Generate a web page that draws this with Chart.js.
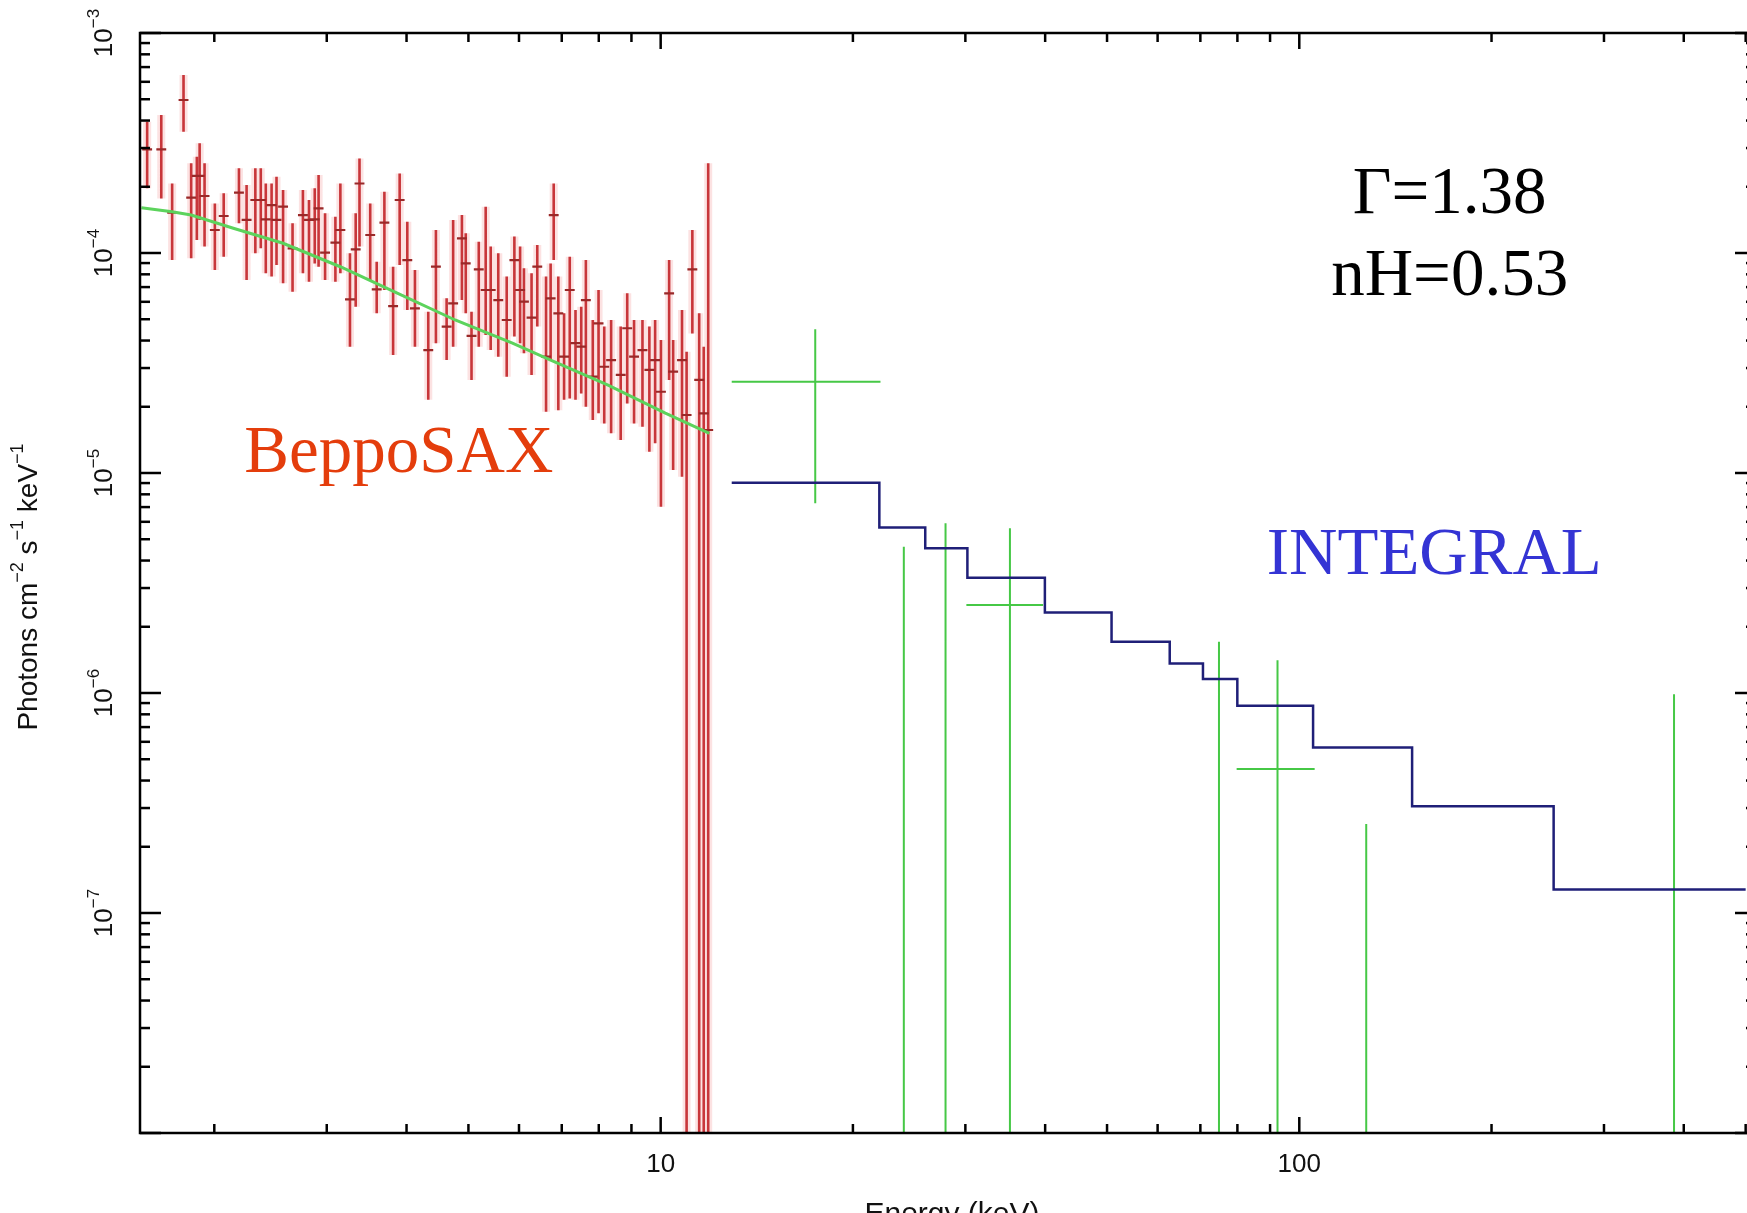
<!DOCTYPE html>
<html>
<head>
<meta charset="utf-8">
<title>BeppoSAX + INTEGRAL spectrum</title>
<script src="https://cdn.jsdelivr.net/npm/chart.js@4.4.0/dist/chart.umd.min.js"></script>
<style>
  html, body { margin: 0; padding: 0; background: #fff; overflow: hidden; }
  #wrap { width: 1747px; height: 1213px; overflow: hidden; }
</style>
</head>
<body>
<div id="wrap"><canvas id="chart" width="1760" height="1240"></canvas></div>
<script>
// x: energy (keV), y: photons cm^-2 s^-1 keV^-1, both

// BeppoSAX data points
var saxEnergy = [
  1.570, 1.652, 1.718, 1.790, 1.840, 1.878, 1.897, 1.931, 2.004, 2.069,
  2.186, 2.247, 2.319, 2.365, 2.408, 2.459, 2.503, 2.563, 2.652, 2.753,
  2.814, 2.873, 2.913, 2.982, 3.095, 3.151, 3.262, 3.330, 3.376, 3.509,
  3.592, 3.693, 3.811, 3.902, 4.011, 4.123, 4.326, 4.447, 4.622, 4.732,
  4.884, 4.952, 5.056, 5.190, 5.321, 5.418, 5.568, 5.740, 5.901, 6.024,
  6.108, 6.278, 6.409, 6.615, 6.725, 6.800, 6.914, 7.059, 7.205, 7.356,
  7.510, 7.636, 7.829, 7.993, 8.159, 8.364, 8.658, 8.864, 9.085, 9.365,
  9.601, 9.802, 10.01, 10.31, 10.46, 10.80, 10.98, 11.21, 11.49, 11.68,
  11.87
];
var saxFlux = [
  2.96e-4, 2.96e-4, 1.525e-4, 4.96e-4, 1.784e-4, 2.24e-4, 2.24e-4, 1.816e-4, 1.272e-4, 1.473e-4,
  1.88e-4, 1.413e-4, 1.741e-4, 1.741e-4, 1.422e-4, 1.652e-4, 1.413e-4, 1.624e-4, 1.05e-4, 1.488e-4,
  1.413e-4, 1.422e-4, 1.596e-4, 1.004e-4, 1.114e-4, 1.272e-4, 6.16e-5, 1.039e-4, 2.07e-4, 1.207e-4,
  6.84e-5, 1.374e-4, 5.74e-5, 1.741e-4, 9.29e-5, 5.6e-5, 3.62e-5, 8.67e-5, 4.63e-5, 5.9e-5,
  1.166e-4, 8.97e-5, 4.2e-5, 8.43e-5, 6.79e-5, 6.79e-5, 6.11e-5, 4.96e-5, 9.29e-5, 6.79e-5,
  6.01e-5, 5.08e-5, 8.67e-5, 3.38e-5, 6.22e-5, 1.488e-4, 5.32e-5, 3.38e-5, 6.79e-5, 3.89e-5,
  3.75e-5, 6.11e-5, 2.74e-5, 4.79e-5, 3.04e-5, 3.26e-5, 2.79e-5, 4.55e-5, 3.38e-5, 3.62e-5,
  2.94e-5, 3.26e-5, 2.34e-5, 6.56e-5, 2.89e-5, 3.26e-5, 1.835e-5, 8.43e-5, 2.65e-5, 1.867e-5,
  1.568e-5
];
var saxUpper = [
  3.95e-4, 4.24e-4, 2.07e-4, 6.44e-4, 2.56e-4, 2.74e-4, 3.15e-4, 2.56e-4, 1.681e-4, 1.867e-4,
  2.43e-4, 2.04e-4, 2.43e-4, 2.43e-4, 2.07e-4, 2.07e-4, 2.22e-4, 1.934e-4, 1.364e-4, 1.934e-4,
  1.741e-4, 1.967e-4, 2.26e-4, 1.515e-4, 1.463e-4, 2.07e-4, 9.97e-5, 1.515e-4, 2.69e-4, 1.681e-4,
  9.13e-5, 1.9e-4, 8.67e-5, 2.3e-4, 1.388e-4, 8.37e-5, 5.41e-5, 1.272e-4, 6.22e-5, 1.413e-4,
  1.488e-4, 1.229e-4, 5.41e-5, 1.126e-4, 1.624e-4, 1.069e-4, 9.97e-5, 7.81e-5, 1.187e-4, 1.069e-4,
  8.52e-5, 8.08e-5, 1.088e-4, 7.81e-5, 8.97e-5, 2.07e-4, 7.81e-5, 5.32e-5, 9.62e-5, 5.51e-5,
  5.7e-5, 9.29e-5, 4.96e-5, 6.79e-5, 4.63e-5, 4.96e-5, 4.63e-5, 6.56e-5, 4.96e-5, 4.96e-5,
  4.63e-5, 4.96e-5, 4.02e-5, 9.29e-5, 4.02e-5, 5.51e-5, 3.56e-5, 1.272e-4, 5.32e-5, 3.75e-5,
  2.56e-4
];
// 1e-10 = the bar runs off the bottom of the plot
var saxLower = [
  1.97e-4, 1.77e-4, 9.29e-5, 3.56e-4, 9.46e-5, 1.146e-4, 1.413e-4, 1.069e-4, 8.37e-5, 9.62e-5,
  1.364e-4, 7.54e-5, 9.97e-5, 1.05e-4, 8.08e-5, 7.81e-5, 8.82e-5, 7.28e-5, 6.67e-5, 8.08e-5,
  7.41e-5, 8.97e-5, 8.67e-5, 7.54e-5, 7.41e-5, 8.08e-5, 3.75e-5, 5.7e-5, 1.069e-4, 7.54e-5,
  5.32e-5, 6.79e-5, 3.44e-5, 8.82e-5, 5.51e-5, 3.75e-5, 2.15e-5, 3.89e-5, 3.26e-5, 3.75e-5,
  6.11e-5, 5.32e-5, 2.65e-5, 3.75e-5, 4.24e-5, 3.62e-5, 3.38e-5, 2.74e-5, 4.17e-5, 3.89e-5,
  3.5e-5, 2.79e-5, 4.63e-5, 1.9e-5, 3.26e-5, 9.29e-5, 1.93e-5, 2.15e-5, 2.18e-5, 2.15e-5,
  2.3e-5, 2.0e-5, 1.741e-5, 1.867e-5, 1.681e-5, 1.515e-5, 1.413e-5, 2.07e-5, 1.681e-5, 1.624e-5,
  1.25e-5, 1.364e-5, 7.03e-6, 2.65e-5, 1.032e-5, 9.62e-6, 1e-10, 4.31e-5, 1e-10, 1e-10,
  1e-10
];

// BeppoSAX absorbed power law model
var saxModelEnergy = [1.538, 1.717, 1.840, 2.142, 2.563, 3.150, 3.876, 4.766, 5.860, 6.725, 8.273, 10.17, 11.92];
var saxModelFlux = [1.607e-4, 1.54e-4, 1.488e-4, 1.295e-4, 1.107e-4, 8.66e-5, 6.56e-5, 4.96e-5, 3.89e-5, 3.26e-5, 2.51e-5, 1.87e-5, 1.515e-5];

// INTEGRAL points, null flux = point is below the plot (only the bar shows)
var intEnergy = [17.46, 24.03, 27.93, 35.23, 74.86, 92.45, 127.3, 386.2];
var intBinLow = [12.92, 22.0, 25.96, 30.11, 70.66, 79.78, 105.1, 250.2];
var intBinHigh = [22.09, 25.96, 30.22, 39.7, 79.98, 105.7, 150.2, 500];
var intFlux = [2.6e-5, null, null, 2.51e-6, null, 4.51e-7, null, null];
var intUpper = [4.5e-5, 4.62e-6, 5.91e-6, 5.61e-6, 1.71e-6, 1.41e-6, 2.54e-7, 9.86e-7];
var intLower = [7.28e-6, 1e-10, 1e-10, 1e-10, 1e-10, 1e-10, 1e-10, 1e-10];

// INTEGRAL model, one level per bin
var intModelEdges = [12.92, 22.0, 25.96, 30.22, 39.96, 50.82, 62.68, 70.66, 79.98, 105.1, 150.2, 250.2, 500];
var intModelFlux = [9.04e-6, 5.66e-6, 4.55e-6, 3.34e-6, 2.32e-6, 1.71e-6, 1.36e-6, 1.158e-6, 8.76e-7, 5.66e-7, 3.06e-7, 1.28e-7];

// axis labels
var xLabelTicks = [10, 100];
var yLabelTicks = [1e-3, 1e-4, 1e-5, 1e-6, 1e-7];

// text written on the plot (placed in data units)
var notes = [
  { text: 'Γ=1.38', e: 172, f: 1.52e-4, color: '#000000' },
  { text: 'nH=0.53', e: 172, f: 6.44e-5, color: '#000000' },
  { text: 'BeppoSAX', e: 3.89, f: 1.01e-5, color: '#e43d0c' },
  { text: 'INTEGRAL', e: 162.7, f: 3.48e-6, color: '#3434d4' }
];

var SANS = '"Liberation Sans", Arial, Helvetica, sans-serif';
var SERIF = '"Liberation Serif", "Times New Roman", serif';


function verticalBars(energy, lo, hi) {
    var pts = [];
    for (var i = 0; i < energy.length; i++) {
        pts.push({ x: energy[i], y: lo[i] });
        pts.push({ x: energy[i], y: hi[i] });
        pts.push({ x: energy[i], y: null });
    }
    return pts;
}

function horizontalBars(lo, hi, flux) {
    var pts = [];
    for (var i = 0; i < flux.length; i++) {
        if (flux[i] === null) continue;
        pts.push({ x: lo[i], y: flux[i] });
        pts.push({ x: hi[i], y: flux[i] });
        pts.push({ x: hi[i], y: null });
    }
    return pts;
}

function lineData(xs, ys) {
    var pts = [];
    for (var i = 0; i < xs.length; i++) pts.push({ x: xs[i], y: ys[i] });
    return pts;
}

// small horizontal caps for the BeppoSAX bins (about +-5 px)
var capW = 1.018;
var saxCapLo = saxEnergy.map(function (e) { return e / capW; });
var saxCapHi = saxEnergy.map(function (e) { return e * capW; });

var stepPts = lineData(intModelEdges.slice(0, intModelFlux.length), intModelFlux);
stepPts.push({ x: intModelEdges[intModelEdges.length - 1], y: intModelFlux[intModelFlux.length - 1] });


function seg(ctx, x1, y1, x2, y2) {
    ctx.beginPath();
    ctx.moveTo(x1, y1);
    ctx.lineTo(x2, y2);
    ctx.stroke();
}

// draws text with raised parts, centred on 0 along the text direction
function drawRich(ctx, parts, size) {
    var supSize = Math.round(size * 0.66);
    var total = 0;
    parts.forEach(function (p) {
        ctx.font = (p.sup ? supSize : size) + 'px ' + SANS;
        p.w = ctx.measureText(p.t).width;
        total += p.w;
    });
    var x = -total / 2;
    parts.forEach(function (p) {
        ctx.font = (p.sup ? supSize : size) + 'px ' + SANS;
        ctx.fillText(p.t, x, p.sup ? -size * 0.4 : 0);
        x += p.w;
    });
}

var framePlugin = {
    id: 'xspecFrame',
    afterDatasetsDraw: function (chart) {
        var ctx = chart.ctx;
        var a = chart.chartArea;
        var xs = chart.scales.x, ys = chart.scales.y;
        ctx.save();
        ctx.strokeStyle = '#000';
        ctx.fillStyle = '#111';
        ctx.lineWidth = 2.5;
        ctx.strokeRect(a.left, a.top, a.right - a.left, a.bottom - a.top);

        // energy ticks, inward on bottom and top
        for (var d = 1; d <= 1000; d *= 10) {
            for (var m = 1; m <= 9; m++) {
                var v = m * d;
                if (v < xs.min || v > xs.max) continue;
                var px = xs.getPixelForValue(v);
                var len = m === 1 ? 16 : 9;
                seg(ctx, px, a.bottom, px, a.bottom - len);
                seg(ctx, px, a.top, px, a.top + len);
            }
        }
        // flux ticks, inward on left and right
        for (var k = -8; k < -3; k++) {
            var dec = Math.pow(10, k);
            for (var n = 1; n <= 9; n++) {
                var fv = n * dec;
                var py = ys.getPixelForValue(fv);
                var l2 = n === 1 ? 21 : 10;
                seg(ctx, a.left, py, a.left + l2, py);
                seg(ctx, a.right, py, a.right - l2, py);
            }
        }
        seg(ctx, a.left, a.top, a.left + 21, a.top);
        seg(ctx, a.right, a.top, a.right - 21, a.top);

        // x labels
        ctx.font = '26px ' + SANS;
        ctx.textAlign = 'center';
        ctx.textBaseline = 'middle';
        xLabelTicks.forEach(function (v) {
            ctx.fillText(String(v), xs.getPixelForValue(v), 1165);
        });

        // y labels, turned to read upwards
        ctx.textAlign = 'left';
        yLabelTicks.forEach(function (v) {
            var exp = Math.round(Math.log10(v));
            ctx.save();
            ctx.translate(105, ys.getPixelForValue(v));
            ctx.rotate(-Math.PI / 2);
            drawRich(ctx, [{ t: '10' }, { t: '\u2212' + Math.abs(exp), sup: true }], 26);
            ctx.restore();
        });

        // y title
        ctx.save();
        ctx.translate(29, (a.top + a.bottom) / 2 + 4);
        ctx.rotate(-Math.PI / 2);
        drawRich(ctx, [
            { t: 'Photons cm' }, { t: '\u22122', sup: true },
            { t: ' s' }, { t: '\u22121', sup: true },
            { t: ' keV' }, { t: '\u22121', sup: true }
        ], 28);
        ctx.restore();

        // x title (cut by the page edge like the original)
        ctx.font = '30px ' + SANS;
        ctx.textAlign = 'center';
        ctx.textBaseline = 'alphabetic';
        ctx.fillText('Energy (keV)', (a.left + a.right) / 2 + 4, 1223);

        // notes
        ctx.font = '67px ' + SERIF;
        notes.forEach(function (t) {
            ctx.fillStyle = t.color;
            ctx.fillText(t.text, xs.getPixelForValue(t.e), ys.getPixelForValue(t.f));
        });
        ctx.restore();
    }
};

var lineBase = { showLine: true, pointRadius: 0, pointHoverRadius: 0, spanGaps: false, fill: false };

function ds(extra) {
    return Object.assign({}, lineBase, extra);
}

var myChart = new Chart(document.getElementById('chart'), {
    type: 'scatter',
    data: {
        datasets: [
            // first in the list is drawn on top
            ds({ label: 'INTEGRAL model', data: stepPts, stepped: 'before', borderColor: '#1f1f78', borderWidth: 2.5 }),
            ds({ label: 'BeppoSAX model', data: lineData(saxModelEnergy, saxModelFlux), borderColor: '#5cd35c', borderWidth: 3 }),
            ds({ label: 'INTEGRAL err', data: verticalBars(intEnergy, intLower, intUpper), borderColor: '#46c846', borderWidth: 2 }),
            ds({ label: 'INTEGRAL bins', data: horizontalBars(intBinLow, intBinHigh, intFlux), borderColor: '#46c846', borderWidth: 2 }),
            ds({ label: 'BeppoSAX bins', data: horizontalBars(saxCapLo, saxCapHi, saxFlux), borderColor: '#9a2828', borderWidth: 2.2 }),
            ds({ label: 'BeppoSAX err', data: verticalBars(saxEnergy, saxLower, saxUpper), borderColor: '#c8363a', borderWidth: 2.6 }),
            ds({ label: 'BeppoSAX glow', data: verticalBars(saxEnergy, saxLower, saxUpper), borderColor: 'rgba(240,110,110,0.2)', borderWidth: 8 })
        ]
    },
    options: {
        responsive: false,
        animation: false,
        devicePixelRatio: 1,
        layout: { padding: { left: 140, top: 33, right: 4, bottom: 107 } },
        plugins: { legend: { display: false }, tooltip: { enabled: false } },
        scales: {
            x: { type: 'logarithmic', min: 1.53, max: 519, display: false },
            y: { type: 'logarithmic', min: 1e-8, max: 1e-3, display: false }
        }
    },
    plugins: [framePlugin]
});
</script>
</body>
</html>
